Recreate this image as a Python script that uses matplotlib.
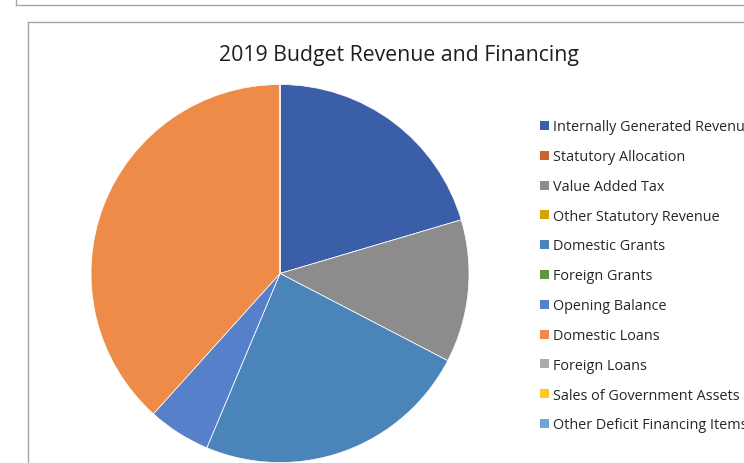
import matplotlib
matplotlib.use("Agg")
import matplotlib.pyplot as plt
from matplotlib.patches import Rectangle
from matplotlib.lines import Line2D

title = "2019 Budget Revenue and Financing"
categories = [
    "Internally Generated Revenue",
    "Statutory Allocation",
    "Value Added Tax",
    "Other Statutory Revenue",
    "Domestic Grants",
    "Foreign Grants",
    "Opening Balance",
    "Domestic Loans",
    "Foreign Loans",
    "Sales of Government Assets",
    "Other Deficit Financing Items",
]
# share of total (%)
values = [20.42, 0, 12.21, 0, 23.70, 0, 5.35, 38.32, 0, 0, 0]
colors = ["#3B5EA8", "#C8652B", "#8C8C8C", "#D6A300", "#4A84B8", "#5E9640",
          "#5780CB", "#EE8B48", "#ABABAB", "#FFC824", "#6DA6DA"]

W, H = 744, 464
fig = plt.figure(figsize=(W / 100, H / 100), dpi=100)
fig.patch.set_facecolor("white")

def fx(px):
    return px / W

def fy(py):
    return 1 - py / H

# outer frame lines (screenshot borders)
border = "#A6A6A6"
fig.add_artist(Line2D([fx(16), 1], [fy(5.5), fy(5.5)], color=border, lw=1.0, transform=fig.transFigure))
fig.add_artist(Line2D([fx(16), fx(16)], [1, fy(5.5)], color=border, lw=1.0, transform=fig.transFigure))
fig.add_artist(Line2D([fx(27.5), 1], [fy(22.5), fy(22.5)], color=border, lw=1.0, transform=fig.transFigure))
fig.add_artist(Line2D([fx(27.5), fx(27.5)], [fy(22.5), 0], color=border, lw=1.0, transform=fig.transFigure))

# pie axes
cx, cy, r = 280, 274.5, 189
ax = fig.add_axes([fx(cx - r), fy(cy + r), (2 * r) / W, (2 * r) / H])
ax.pie(values, colors=colors, startangle=90, counterclock=False, radius=1,
       wedgeprops=dict(edgecolor="white", linewidth=0.5))
ax.set_xlim(-1, 1)
ax.set_ylim(-1, 1)
ax.set_aspect("equal")
ax.axis("off")

font = "Open Sans"
fig.text(fx(399), fy(61), title, ha="center", va="baseline", fontsize=15.3,
         family=font, color="#1E1E1E")

# legend
y0, dy = 126.5, 29.8
for i, (lab, col) in enumerate(zip(categories, colors)):
    yc = y0 + i * dy
    fig.add_artist(Rectangle((fx(540), fy(yc + 4.5)), 9 / W, 9 / H, facecolor=col,
                             edgecolor="none", transform=fig.transFigure))
    fig.text(fx(553), fy(yc + 4.8), lab, ha="left", va="baseline", fontsize=10.4,
             family=font, color="#262626")

fig.savefig("out.png", dpi=100)
